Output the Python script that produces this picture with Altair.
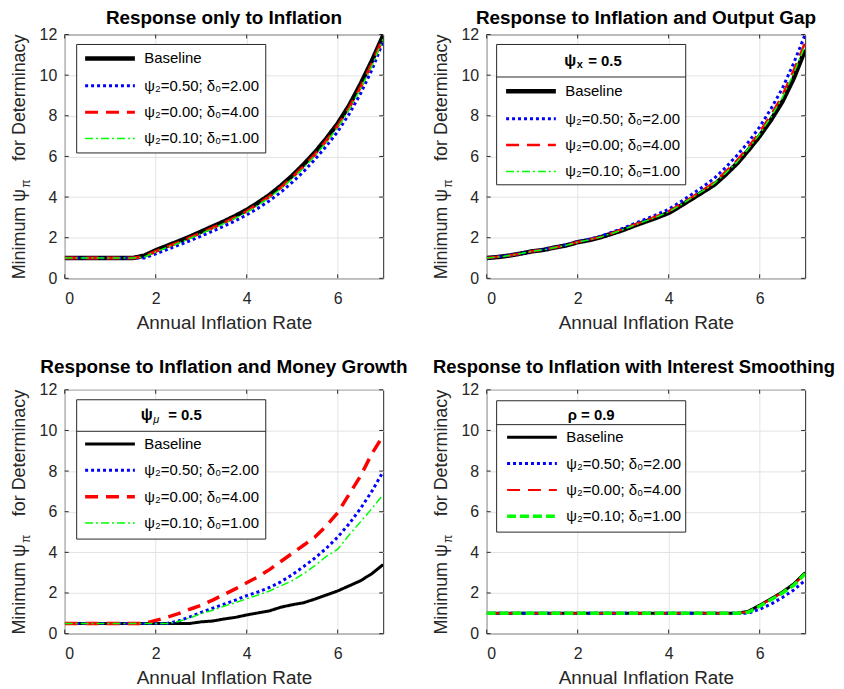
import altair as alt
import pandas as pd

# ---------------- data ----------------
X = [0, 0.25, 0.5, 0.75, 1, 1.25, 1.5, 1.75, 2, 2.25, 2.5, 2.75, 3, 3.25, 3.5,
     3.75, 4, 4.25, 4.5, 4.75, 5, 5.25, 5.5, 5.75, 6, 6.25, 6.5, 6.75, 7]

SERIES = ["Baseline", "ψ₂=0.50; δ₀=2.00", "ψ₂=0.00; δ₀=4.00", "ψ₂=0.10; δ₀=1.00"]
COLORS = ["#000000", "#0000ff", "#ff0000", "#00ff00"]
XTICKS = [0, 2, 4, 6]
YTICKS = [0, 2, 4, 6, 8, 10, 12]

TITLES = ["Response only to Inflation",
          "Response to Inflation and Output Gap",
          "Response to Inflation and Money Growth",
          "Response to Inflation with Interest Smoothing"]

# Panel 1: response only to inflation
P1_BASE = [1, 1, 1, 1, 1, 1, 1, 1.12, 1.38, 1.6, 1.82, 2.05, 2.3, 2.55, 2.8, 3.07, 3.37,
           3.72, 4.1, 4.55, 5.05, 5.6, 6.2, 6.88, 7.62, 8.5, 9.55, 10.7, 11.95]
P1_B050 = [1, 1, 1, 1, 1, 1, 1, 1, 1.2, 1.42, 1.63, 1.85, 2.08, 2.32, 2.57, 2.83, 3.12,
           3.45, 3.82, 4.24, 4.72, 5.25, 5.85, 6.5, 7.22, 8.08, 9.08, 10.25, 11.65]
P1_R000 = [1, 1, 1, 1, 1, 1, 1, 1.08, 1.33, 1.55, 1.77, 2.0, 2.24, 2.48, 2.74, 3.0, 3.3,
           3.65, 4.03, 4.47, 4.97, 5.5, 6.1, 6.77, 7.5, 8.38, 9.4, 10.55, 11.85]
P1_G010 = [1, 1, 1, 1, 1, 1, 1, 1.05, 1.3, 1.52, 1.73, 1.96, 2.2, 2.44, 2.7, 2.96, 3.25,
           3.6, 3.98, 4.41, 4.9, 5.43, 6.03, 6.7, 7.42, 8.3, 9.32, 10.45, 11.78]

# Panel 2: inflation and output gap
P2_BASE = [1.0, 1.05, 1.12, 1.22, 1.33, 1.4, 1.52, 1.62, 1.78, 1.88, 2.02, 2.2, 2.38, 2.6,
           2.8, 3.0, 3.22, 3.55, 3.9, 4.25, 4.6, 5.1, 5.65, 6.3, 7.0, 7.8, 8.7, 9.85, 11.25]
P2_B050 = [1.0, 1.07, 1.13, 1.22, 1.33, 1.42, 1.52, 1.65, 1.8, 1.92, 2.07, 2.27, 2.47, 2.7,
           2.92, 3.15, 3.4, 3.75, 4.12, 4.5, 4.92, 5.45, 6.05, 6.7, 7.45, 8.35, 9.35, 10.6, 12.0]
P2_R000 = [1.0, 1.06, 1.12, 1.22, 1.33, 1.41, 1.52, 1.63, 1.79, 1.9, 2.04, 2.22, 2.42, 2.64,
           2.85, 3.07, 3.3, 3.63, 3.98, 4.35, 4.72, 5.25, 5.8, 6.47, 7.2, 8.05, 9.0, 10.25, 11.6]
P2_G010 = [1.0, 1.05, 1.12, 1.22, 1.33, 1.4, 1.52, 1.63, 1.78, 1.89, 2.03, 2.21, 2.4, 2.62,
           2.83, 3.04, 3.27, 3.6, 3.95, 4.3, 4.67, 5.18, 5.72, 6.38, 7.1, 7.95, 8.9, 10.1, 11.45]

# Panel 3: inflation and money growth
P3_BASE = [0.5, 0.5, 0.5, 0.5, 0.5, 0.5, 0.5, 0.5, 0.5, 0.5, 0.5, 0.5, 0.58, 0.62, 0.72,
           0.8, 0.92, 1.02, 1.12, 1.3, 1.42, 1.52, 1.7, 1.9, 2.1, 2.35, 2.6, 2.95, 3.4]
P3_B050 = [0.5, 0.5, 0.5, 0.5, 0.5, 0.5, 0.5, 0.5, 0.5, 0.5, 0.62, 0.82, 1.05, 1.25, 1.45,
           1.65, 1.87, 2.05, 2.27, 2.55, 2.9, 3.3, 3.72, 4.2, 4.75, 5.4, 6.15, 7.0, 7.98]
P3_R000 = [0.5, 0.5, 0.5, 0.5, 0.5, 0.5, 0.5, 0.5, 0.65, 0.8, 0.98, 1.2, 1.4, 1.65, 1.92,
           2.2, 2.5, 2.8, 3.15, 3.55, 3.95, 4.35, 4.75, 5.3, 5.95, 6.85, 7.75, 8.85, 9.75]
P3_G010 = [0.5, 0.5, 0.5, 0.5, 0.5, 0.5, 0.5, 0.5, 0.5, 0.5, 0.6, 0.78, 0.98, 1.15, 1.35,
           1.52, 1.72, 1.9, 2.1, 2.35, 2.6, 2.95, 3.35, 3.8, 4.15, 4.85, 5.5, 6.15, 6.85]

# Panel 4: interest smoothing
P4_BASE = [1, 1, 1, 1, 1, 1, 1, 1, 1, 1, 1, 1, 1, 1, 1, 1, 1, 1, 1, 1, 1, 1, 1,
           1.1, 1.4, 1.72, 2.05, 2.45, 3.0]
P4_B050 = [1, 1, 1, 1, 1, 1, 1, 1, 1, 1, 1, 1, 1, 1, 1, 1, 1, 1, 1, 1, 1, 1, 1,
           1.0, 1.2, 1.45, 1.78, 2.15, 2.62]
P4_R000 = [1, 1, 1, 1, 1, 1, 1, 1, 1, 1, 1, 1, 1, 1, 1, 1, 1, 1, 1, 1, 1, 1, 1,
           1.08, 1.38, 1.7, 2.02, 2.4, 2.95]
P4_G010 = [1, 1, 1, 1, 1, 1, 1, 1, 1, 1, 1, 1, 1, 1, 1, 1, 1, 1, 1, 1, 1, 1, 1,
           1.05, 1.35, 1.67, 2.0, 2.38, 2.95]

# ---------------- styling ----------------
W, H = 320, 245
FONT = "Liberation Sans"
INK = "#262626"
SOLID = [1, 0]
DOT = [3, 3]
DASH = [13, 8]
DASHDOT = [8, 3, 2, 3]
SHORTDASH = [9, 4]
# legend symbol: a 50px stroke starting at the entry's left edge
LEG_SYMBOL = "M-1,0H9"

ONE = pd.DataFrame({"k": [0]})


def txt(text, x, y, size=18, align="left", baseline="alphabetic", angle=0,
        weight="normal", style="normal", color=INK):
    kw = dict(font=FONT, fontSize=size, align=align, baseline=baseline,
              fontWeight=weight, fontStyle=style, color=color)
    if angle:
        kw["angle"] = angle
    return alt.Chart(ONE).mark_text(**kw).encode(
        x=alt.value(x), y=alt.value(y), text=alt.value(text))


def panel(title, values, widths, dashes, box, leg_xy, header=None, sep=None,
          title_offset=1, title_size=19, title_dx=0):
    df = pd.DataFrame({
        "x": X * 4,
        "v": [val for series in values for val in series],
        "s": [s for s in SERIES for _ in X],
    })
    xs = alt.X("x:Q", scale=alt.Scale(domain=[0, 7], nice=False),
               axis=alt.Axis(values=XTICKS, title="Annual Inflation Rate",
                             labelPadding=12, titlePadding=7))
    ys = alt.Y("v:Q", scale=alt.Scale(domain=[0, 12], nice=False),
               axis=alt.Axis(values=YTICKS, title=None, labelPadding=8))
    leg = alt.Legend(orient="none", legendX=leg_xy[0], legendY=leg_xy[1],
                     direction="vertical", title=None,
                     symbolType=LEG_SYMBOL, symbolSize=100, labelFont=FONT,
                     labelFontSize=15, labelColor="black", labelOffset=47,
                     padding=0, rowPadding=10.5, labelLimit=300)
    color = alt.Color("s:N", scale=alt.Scale(domain=SERIES, range=COLORS), legend=leg)
    dash = alt.StrokeDash("s:N", scale=alt.Scale(domain=SERIES, range=dashes), legend=leg)
    sw = alt.StrokeWidth("s:N", scale=alt.Scale(type="ordinal", domain=SERIES, range=widths),
                         legend=leg)

    layers = []
    for s in SERIES:
        layers.append(
            alt.Chart(df).transform_filter(alt.datum.s == s)
            .mark_line(clip=True, strokeCap="butt", strokeJoin="round")
            .encode(x=xs, y=ys, color=color, strokeDash=dash, strokeWidth=sw)
        )

    xt = pd.DataFrame({"x": XTICKS})
    yt = pd.DataFrame({"v": YTICKS})
    tick = dict(color=INK, strokeWidth=1)
    layers += [
        alt.Chart(xt).mark_rule(**tick).encode(x=xs, y=alt.value(H), y2=alt.value(H - 4)),
        alt.Chart(xt).mark_rule(**tick).encode(x=xs, y=alt.value(0), y2=alt.value(4)),
        alt.Chart(yt).mark_rule(**tick).encode(y=ys, x=alt.value(0), x2=alt.value(4)),
        alt.Chart(yt).mark_rule(**tick).encode(y=ys, x=alt.value(W), x2=alt.value(W - 4)),
    ]

    # y-axis title with subscript pi
    layers += [
        txt("Minimum ψ", -40, H + 1, angle=270, align="left"),
        txt("π", -35, H + 1 - 92, size=12, angle=270, align="left"),
        txt("for Determinacy", -40, 0, angle=270, align="right"),
    ]

    # legend box (white, framed) drawn over the lines; the legend entries sit on it
    layers.append(
        alt.Chart(ONE).mark_rect(fill="white", stroke=INK, strokeWidth=1).encode(
            x=alt.value(box[0]), x2=alt.value(box[2]),
            y=alt.value(box[1]), y2=alt.value(box[3]))
    )
    if sep is not None:
        layers.append(
            alt.Chart(ONE).mark_rule(color=INK, strokeWidth=1).encode(
                x=alt.value(box[0]), x2=alt.value(box[2]), y=alt.value(sep))
        )
    if header is not None:
        layers += header

    tkw = dict(font=FONT, fontSize=title_size, fontWeight="bold", color="black",
               frame="group", anchor="middle", offset=title_offset)
    if title_dx:
        tkw["dx"] = title_dx
    return alt.layer(*layers).properties(width=W, height=H, title=alt.Title(title, **tkw))


hdr2 = [
    txt("ψ", 90, 27, size=16, align="right", baseline="middle", weight="bold", color="black"),
    txt("x", 90.5, 31, size=11, align="left", baseline="middle", weight="bold", color="black"),
    txt("= 0.5", 102, 27, size=15, align="left", baseline="middle", weight="bold", color="black"),
]
hdr3 = [
    txt("ψ", 88.5, 25, size=16, align="right", baseline="middle", weight="bold", color="black"),
    txt("μ", 89, 30, size=11, align="left", baseline="middle", style="italic", color="black"),
    txt("= 0.5", 104, 25, size=15, align="left", baseline="middle", weight="bold", color="black"),
]
hdr4 = [
    txt("ρ = 0.9", 105, 25, size=15, align="center", baseline="middle", weight="bold",
        color="black"),
]

p1 = panel(TITLES[0], [P1_BASE, P1_B050, P1_R000, P1_G010], [4.5, 3, 3, 1.5],
           [SOLID, DOT, DASH, DASHDOT], box=(12, 10, 202, 119), leg_xy=(18, 16.5),
           title_offset=-1)
p2 = panel(TITLES[1], [P2_BASE, P2_B050, P2_R000, P2_G010], [4.5, 3, 2.5, 1.5],
           [SOLID, DOT, DASH, DASHDOT], box=(10, 10, 200, 151), leg_xy=(17, 49.6),
           header=hdr2, sep=42.7, title_offset=-1)
p3 = panel(TITLES[2], [P3_BASE, P3_B050, P3_R000, P3_G010], [3, 3, 3.5, 1.5],
           [SOLID, DOT, DASH, DASHDOT], box=(12, 10, 202, 150), leg_xy=(18, 46.9),
           header=hdr3, sep=41.7, title_offset=5)
p4 = panel(TITLES[3], [P4_BASE, P4_B050, P4_R000, P4_G010], [3, 3, 2, 3.5],
           [SOLID, DOT, DASH, SHORTDASH], box=(10, 11, 200, 143), leg_xy=(18, 40.1),
           header=hdr4, sep=35, title_offset=5, title_size=18.5, title_dx=-12)

res = dict(color="independent", strokeDash="independent", strokeWidth="independent",
           x="independent", y="independent")
lres = dict(color="independent", strokeDash="independent", strokeWidth="independent")

top = alt.hconcat(p1, p2, spacing=48).resolve_scale(**res).resolve_legend(**lres)
bottom = alt.hconcat(p3, p4, spacing=23).resolve_scale(**res).resolve_legend(**lres)

chart = (
    alt.vconcat(top, bottom, spacing=24)
    .resolve_scale(**res)
    .resolve_legend(**lres)
    .properties(padding={"left": 2, "top": -2, "right": 0, "bottom": 0})
    .configure_view(stroke=INK, strokeWidth=1)
    .configure_axis(labelFont=FONT, labelFontSize=16, labelColor=INK,
                    titleFont=FONT, titleFontSize=19, titleFontWeight="normal",
                    titleColor=INK, grid=True, gridColor="#e3e3e3", gridWidth=1,
                    domain=False, ticks=False)
)

chart.save("out.html", embed_options={"renderer": "svg", "actions": False})
